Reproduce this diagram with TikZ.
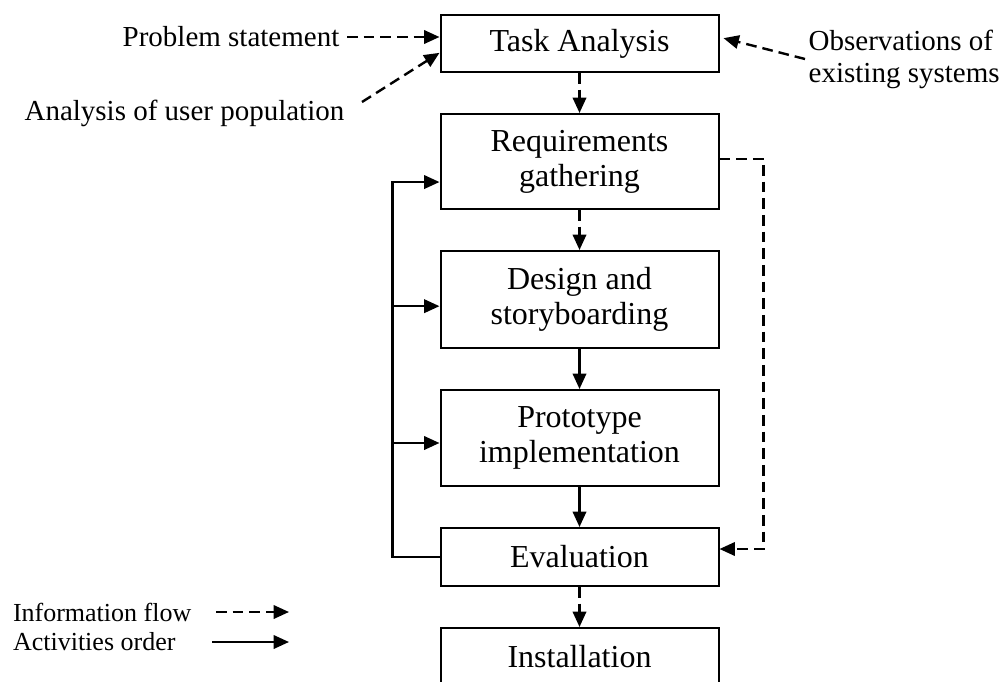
\documentclass[tikz,border=0pt]{standalone}
\usepackage{fontspec}
\setmainfont{Liberation Serif}
\usetikzlibrary{positioning,arrows.meta}

\begin{document}
\begin{tikzpicture}[x=0.75pt,y=-0.75pt,node distance=30pt,line width=1.5pt,
        >={Triangle[length=11.5pt,width=10pt]},
        stage/.style={draw,minimum width=208.5pt,align=center,inner sep=2pt,
            font=\fontsize{24}{26.25}\selectfont},
        side/.style={inner sep=2pt,font=\fontsize{21.75}{24}\selectfont},
        legend/.style={inner sep=0pt,font=\fontsize{19.5}{22}\selectfont},
        info/.style={->,line width=1.8pt,dash pattern=on 8pt off 4.5pt},
        order/.style={->,line width=1.8pt}]

        \useasboundingbox (0,0) rectangle (1005,681);

        % Define stages
        \node[stage,minimum height=42.75pt] (task) at (579.5,43.5) {Task Analysis};
        \node[stage,minimum height=71.25pt] (req) [below=of task] {Requirements\\gathering};
        \node[stage,minimum height=72.75pt] (design) [below=of req] {Design and\\storyboarding};
        \node[stage,minimum height=72pt] (proto) [below=of design] {Prototype\\implementation};
        \node[stage,minimum height=43.5pt] (eval) [below=of proto] {Evaluation};
        \node[stage,minimum height=43.5pt] (install) [below=of eval] {Installation};

        % Define inputs
        \node[side,anchor=east] (problem) at (343,37) {Problem statement};
        \node[side,anchor=east] (users) at (348,113) {Analysis of user population};
        \node[side,anchor=west,align=left] (observe) at (805,59) {Observations of\\existing systems};

        % Define legend
        \node[legend,anchor=west] (infokey) at (12,612) {Information flow};
        \node[legend,anchor=west] (orderkey) at (12,642) {Activities order};
        \coordinate (infoend) at (289,612);
        \coordinate (orderend) at (289,642);

        % Draw edges
        \path
            (task) edge[info] (req)
            (req) edge[info] (design)
            (design) edge[order] (proto)
            (proto) edge[order] (eval)
            (eval) edge[info] (install);

        \draw[info,shorten <=3pt] (problem) -- (problem -| task.west);
        \draw[info] (users.east) ++(14,-11) -- ([yshift=-7pt]task.west);
        \draw[info] (observe.west) -- ([xshift=3pt,yshift=4pt]task.east);

        % Feedback loops
        \draw[order] (eval.west) -- ++(-47,0) |- ([yshift=-15.4pt]req.west);
        \draw[order] ([yshift=-5pt]design.west) ++(-47,0) -- ([yshift=-5pt]design.west);
        \draw[order] ([yshift=-3.75pt]proto.west) ++(-47,0) -- ([yshift=-3.75pt]proto.west);
        \draw[info] ([yshift=2pt]req.east) -- ++(44,0) |- ([yshift=6pt]eval.east);

        \draw[info] (infoend) ++(-73,0) -- (infoend);
        \draw[order] (orderend) ++(-77,0) -- (orderend);

\end{tikzpicture}
\end{document}
